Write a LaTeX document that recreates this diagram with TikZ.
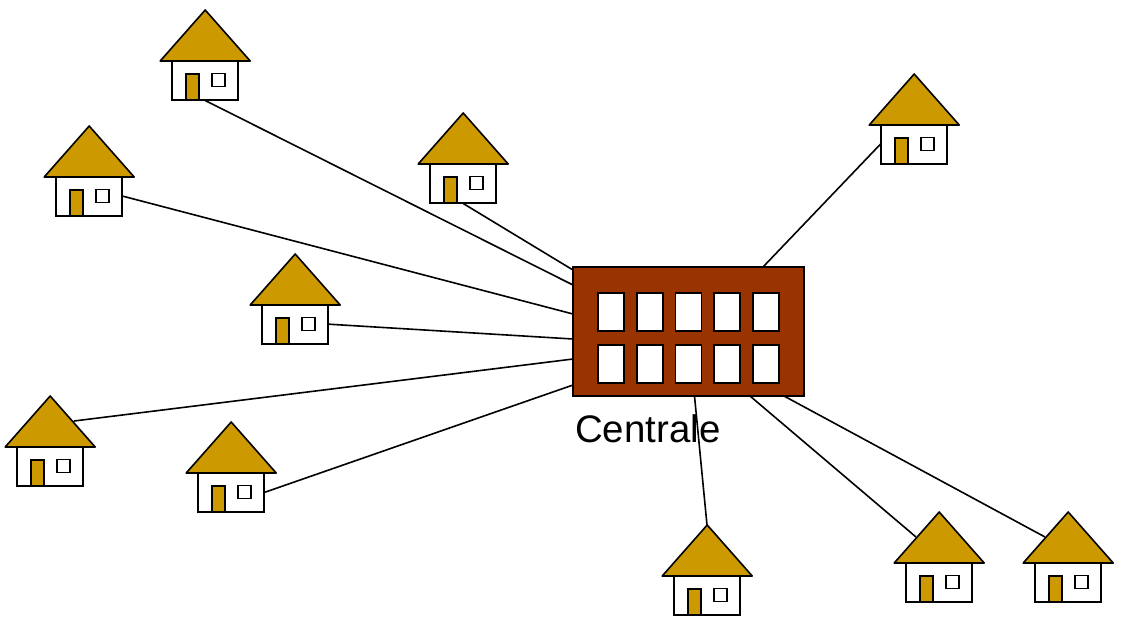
\documentclass[tikz,border=0pt]{standalone}
\usepackage{fontspec}
\setmainfont{Liberation Sans}
\usetikzlibrary{backgrounds}
\definecolor{roofgold}{HTML}{CC9900}
\definecolor{brick}{HTML}{993300}
\tikzset{
  link/.style={draw=black,line width=1.2pt},
  wall/.style={draw=black,fill=white,line width=1.2pt,inner sep=0pt,minimum width=49.5pt,minimum height=29.25pt},
  roofshape/.style={draw=black,fill=roofgold,line width=1.2pt,line join=round},
  doorbox/.style={draw=black,fill=roofgold,line width=1.2pt,inner sep=0pt,minimum width=9.75pt,minimum height=19.5pt},
  pane/.style={draw=black,fill=white,line width=1.2pt,inner sep=0pt,minimum width=9.75pt,minimum height=9.75pt},
  plant/.style={draw=black,fill=brick,line width=1.2pt,inner sep=0pt,minimum width=173.25pt,minimum height=96.75pt},
  plantpane/.style={draw=black,fill=white,line width=1.2pt,inner sep=0pt,minimum width=19.5pt,minimum height=28.5pt},
  caption/.style={font=\fontsize{28.8pt}{32pt}\selectfont,inner sep=0pt,anchor=base west}
}
% name, apex x, apex y (pixels)
\newcommand{\houseat}[3]{%
  \coordinate (#1apex) at (#2,#3);
  \node[wall] (#1) at (#2+0.2,#3+70.2) {};
  \path[roofshape] (#2+0.2,#3) -- (#2-44.8,#3+51) -- (#2+45.2,#3+51) -- cycle;
  \node[doorbox] (#1door) at (#2-12.6,#3+76.7) {};
  \node[pane] (#1pane) at (#2+13.2,#3+70) {};
}
\begin{document}
\begin{tikzpicture}[x=0.75pt,y=-0.75pt]
\useasboundingbox (0,0) rectangle (1124,622);
\houseat{ha}{205}{10}
\houseat{hb}{89}{126}
\houseat{hc}{463}{113}
\houseat{hd}{914}{74}
\houseat{he}{295}{254}
\houseat{hf}{50}{396}
\houseat{hg}{231}{422}
\houseat{hh}{707}{525}
\houseat{hi}{939}{512}
\houseat{hj}{1068}{512}
\node[plant] (central) at (688.5,331.5) {};
\foreach \i/\x in {1/611,2/650,3/688.5,4/727,5/766}{
  \node[plantpane] (upper\i) at (\x,312) {};
  \node[plantpane] (lower\i) at (\x,364) {};
}
\node[caption] (label) at (575,442.5) {Centrale};
\coordinate (pa) at (573,285);
\coordinate (pb) at (573,314);
\coordinate (pc) at (573,270);
\coordinate (pd) at (763,267);
\coordinate (pe) at (573,339);
\coordinate (pf) at (573,359);
\coordinate (pg) at (573,385);
\coordinate (ph) at (694.5,396);
\coordinate (pi) at (750,396);
\coordinate (pj) at (784,396);
\coordinate (rf) at (74,421);
\coordinate (ri) at (916,537);
\coordinate (rj) at (1045,537);
\begin{scope}[on background layer]
\draw[link] (ha.south) -- (pa);
\draw[link] (hb.east) -- (pb);
\draw[link] (hc.south) -- (pc);
\draw[link] (hd.west) -- (pd);
\draw[link] (he.east) -- (pe);
\draw[link] (rf) -- (pf);
\draw[link] (hg.east) -- (pg);
\draw[link] (hhapex) -- (ph);
\draw[link] (ri) -- (pi);
\draw[link] (rj) -- (pj);
\end{scope}
\end{tikzpicture}
\end{document}
